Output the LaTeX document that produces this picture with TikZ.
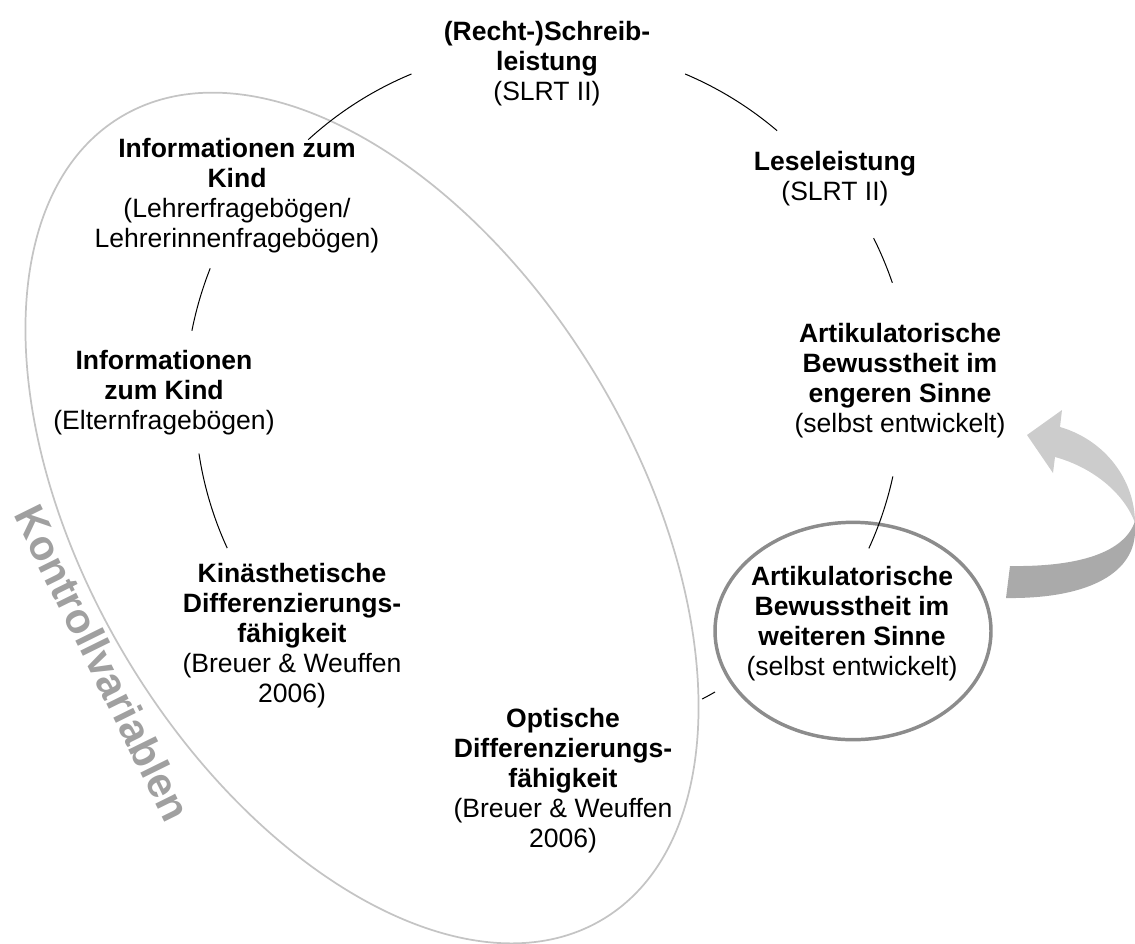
\documentclass[tikz,border=0pt]{standalone}
\usepackage{fontspec}
\setmainfont{Liberation Sans}
\usetikzlibrary{shapes.geometric}
\definecolor{ringgray}{HTML}{8C8C8C}
\definecolor{ellgray}{HTML}{C4C4C4}
\definecolor{kvgray}{HTML}{A0A0A0}
\definecolor{arrlight}{HTML}{CCCCCC}
\definecolor{arrdark}{HTML}{AAAAAA}
\begin{document}
\begin{tikzpicture}[x=0.75pt,y=-0.75pt,
  lbl/.style={align=center, font=\fontsize{19.9}{22.5}\selectfont, inner sep=0pt},
  cycline/.style={line width=0.75pt, black},
  kvtext/.style={font=\fontsize{31.5}{36}\selectfont\bfseries, text=kvgray, inner sep=0pt},
  ringnode/.style={draw=ringgray, line width=2.6pt, ellipse, inner sep=0pt, minimum width=207pt, minimum height=163pt},
]
\useasboundingbox (0,0) rectangle (1135,943);
% big control-variable ellipse
\draw[ellgray, line width=1.3pt, rotate around={-59:(362,518)}] (362,518) ellipse [x radius=468, y radius=274];
% curved block arrow
\fill[arrlight] (1060,427) .. controls (1105,440) and (1135,480) .. (1135,523)
  .. controls (1125,495) and (1095,468) .. (1055,457) -- (1053,473) -- (1027,435) -- (1062,410) -- cycle;
\fill[arrdark] (1135,521) .. controls (1125,552) and (1080,567) .. (1010,566) -- (1006,598)
  .. controls (1085,599) and (1133,575) .. (1135,533) -- cycle;
% ring around current node
\node[ringnode] (ring) at (853,631) {};
% nodes
\node[lbl] (top) at (547,64) {\textbf{(Recht-)Schreib-}\\\textbf{leistung}\\(SLRT II)};
\node[lbl] (lese) at (835,179) {\textbf{Leseleistung}\\(SLRT II)};
\node[lbl] (enger) at (900,381) {\textbf{Artikulatorische}\\\textbf{Bewusstheit im}\\\textbf{engeren Sinne}\\(selbst entwickelt)};
\node[lbl] (weiter) at (852,624) {\textbf{Artikulatorische}\\\textbf{Bewusstheit im}\\\textbf{weiteren Sinne}\\(selbst entwickelt)};
\node[lbl] (opt) at (563,781) {\textbf{Optische}\\\textbf{Differenzierungs-}\\\textbf{fähigkeit}\\(Breuer \& Weuffen\\2006)};
\node[lbl] (kin) at (292,636) {\textbf{Kinästhetische}\\\textbf{Differenzierungs-}\\\textbf{fähigkeit}\\(Breuer \& Weuffen\\2006)};
\node[lbl] (eltern) at (164,393) {\textbf{Informationen}\\\textbf{zum Kind}\\(Elternfragebögen)};
\node[lbl] (lehrer) at (237,196) {\textbf{Informationen zum}\\\textbf{Kind}\\(Lehrerfragebögen/\\Lehrerinnenfragebögen)};
\node[kvtext, rotate=-63.7] (kv) at (103,663) {Kontrollvariablen};
% cycle arcs
\coordinate (cyc) at (547,401);
\draw[cycline] (cyc) ++(-132.4:354) arc[start angle=-132.4, end angle=-112.5, radius=354];
\draw[cycline] (cyc) ++(-67.1:355) arc[start angle=-67.1, end angle=-49.6, radius=355];
\draw[cycline] (cyc) ++(-26.5:365) arc[start angle=-26.5, end angle=-18.9, radius=365];
\draw[cycline] (cyc) ++(12.3:354) arc[start angle=12.3, end angle=24.6, radius=354];
\draw[cycline] (cyc) ++(60:336) arc[start angle=60, end angle=62.5, radius=336];
\draw[cycline] (cyc) ++(155.3:352) arc[start angle=155.3, end angle=171.4, radius=352];
\draw[cycline] (cyc) ++(-168.8:362) arc[start angle=-168.8, end angle=-158.5, radius=362];
\end{tikzpicture}
\end{document}
